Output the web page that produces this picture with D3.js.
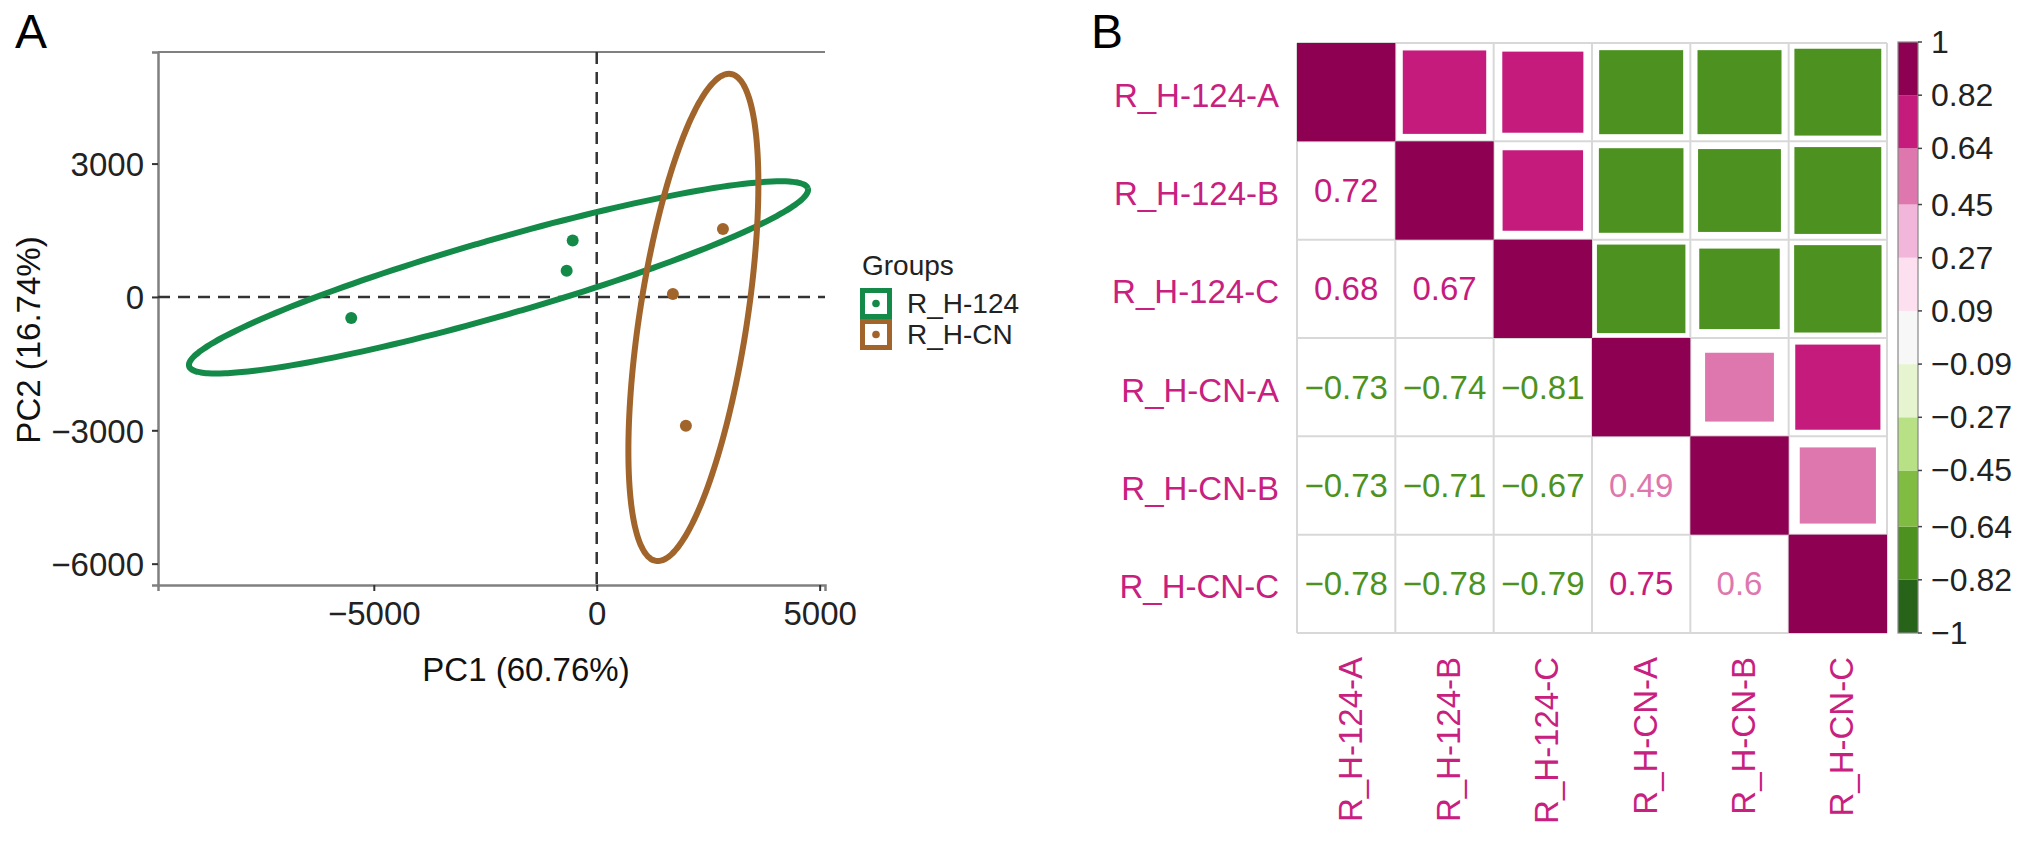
<!DOCTYPE html>
<html><head><meta charset="utf-8">
<script src="https://cdn.jsdelivr.net/npm/d3@7"></script>
<style>body{margin:0;background:#fff}text{font-family:"Liberation Sans",Arial,Helvetica,sans-serif}</style>
</head><body>
<svg id="c" width="2031" height="842"></svg>
<script>
// ---------- Panel A data ----------
const groups = ["R_H-124", "R_H-CN"];
const groupColors = ["#138a48", "#a1652b"];
const pc1_124 = [-5506, -674, -539];
const pc2_124 = [-475, 589, 1268];
const pc1_CN = [1708, 2000, 2831];
const pc2_CN = [68, -2898, 1530];
// ellipse: centre, conjugate semi-diameters (data units)
const ellipse124 = {cx: -2203, cy: 440, ux: 6943, uy: 1970, vx: 0, vy: 890};
const ellipseCN = {cx: 2168, cy: -461, ux: 798, uy: 5480, vx: 1220, vy: 0};
const xTicks = [-5000, 0, 5000];
const yTicks = [3000, 0, -3000, -6000];

// ---------- Panel B data ----------
const samples = ["R_H-124-A","R_H-124-B","R_H-124-C","R_H-CN-A","R_H-CN-B","R_H-CN-C"];
const lowerTri = [
  [],
  [0.72],
  [0.68, 0.67],
  [-0.73, -0.74, -0.81],
  [-0.73, -0.71, -0.67, 0.49],
  [-0.78, -0.78, -0.79, 0.75, 0.6]
];
const colorBreaks = [-1,-0.82,-0.64,-0.45,-0.27,-0.09,0.09,0.27,0.45,0.64,0.82,1];
const breakLabels = ["\u22121","\u22120.82","\u22120.64","\u22120.45","\u22120.27","\u22120.09","0.09","0.27","0.45","0.64","0.82","1"];
const binColors = ["#276419","#4d9221","#7fbc41","#b8e186","#e6f5d0","#f7f7f7","#fde0ef","#f1b6da","#de77ae","#c51b7d","#8e0152"];

const svg = d3.select("#c");
const fmt = d => (d < 0 ? "\u2212" : "") + Math.abs(d);

// ================= Panel A =================
const x = d3.scaleLinear().domain([-9840, 5120]).range([158, 825]);
const y = d3.scaleLinear().domain([-6480, 5510]).range([585, 52]);
const A = svg.append("g");
A.append("text").attr("x", 15).attr("y", 48).attr("font-size", 48).text("A");

const frameCol = "#808080";
A.append("line").attr("x1", 158).attr("x2", 825).attr("y1", 52).attr("y2", 52).attr("stroke", frameCol).attr("stroke-width", 2);

const xAxis = A.append("g").attr("transform", "translate(0,585)")
  .call(d3.axisBottom(x).tickValues(xTicks).tickSize(6).tickPadding(10).tickFormat(fmt));
const yAxis = A.append("g").attr("transform", "translate(158,0)")
  .call(d3.axisLeft(y).tickValues(yTicks).tickSize(6).tickPadding(8).tickFormat(fmt));
[xAxis, yAxis].forEach(g => {
  g.select(".domain").attr("stroke", frameCol).attr("stroke-width", 2.5);
  g.selectAll(".tick line").attr("stroke", "#333").attr("stroke-width", 2);
  g.selectAll(".tick text").attr("font-size", 33).attr("fill", "#222").attr("font-family", '"Liberation Sans",Arial,sans-serif');
});
yAxis.selectAll(".tick text").attr("dy", "0.36em");
xAxis.selectAll(".tick text").attr("dy", "0.72em");

A.append("text").attr("x", 526).attr("y", 681).attr("text-anchor", "middle").attr("font-size", 33).attr("fill", "#111").text("PC1 (60.76%)");
A.append("text").attr("transform", "translate(40,340) rotate(-90)").attr("text-anchor", "middle").attr("font-size", 33).attr("fill", "#111").text("PC2 (16.74%)");

A.append("line").attr("x1", x(0)).attr("x2", x(0)).attr("y1", 52).attr("y2", 585)
  .attr("stroke", "#333").attr("stroke-width", 2.5).attr("stroke-dasharray", "12,8");
A.append("line").attr("x1", 158).attr("x2", 825).attr("y1", y(0)).attr("y2", y(0))
  .attr("stroke", "#333").attr("stroke-width", 2.5).attr("stroke-dasharray", "12,8");

const angles = d3.range(0, 361, 2).map(a => a * Math.PI / 180);
const line = d3.line().x(d => x(d[0])).y(d => y(d[1])).curve(d3.curveCardinalClosed);
function ellipsePts(e) {
  return angles.slice(0, -1).map(t => [e.cx + e.ux * Math.cos(t) + e.vx * Math.sin(t), e.cy + e.uy * Math.cos(t) + e.vy * Math.sin(t)]);
}
[ellipse124, ellipseCN].forEach((e, i) => {
  A.append("path").attr("d", line(ellipsePts(e))).attr("fill", "none")
    .attr("stroke", groupColors[i]).attr("stroke-width", 6);
});
const pts = [pc1_124.map((v, i) => [v, pc2_124[i], 0]), pc1_CN.map((v, i) => [v, pc2_CN[i], 1])].flat();
A.selectAll("circle.pt").data(pts).join("circle").attr("class", "pt")
  .attr("cx", d => x(d[0])).attr("cy", d => y(d[1])).attr("r", 6)
  .attr("fill", d => groupColors[d[2]]);

const L = A.append("g");
L.append("text").attr("x", 862).attr("y", 275).attr("font-size", 28).attr("fill", "#222").text("Groups");
groups.forEach((g, i) => {
  const ky = 288 + i * 31;
  L.append("rect").attr("x", 862.5).attr("y", ky + 2.5).attr("width", 27).attr("height", 26)
    .attr("fill", "#fff").attr("stroke", groupColors[i]).attr("stroke-width", 5);
  L.append("circle").attr("cx", 876).attr("cy", ky + 15.5).attr("r", 3.8).attr("fill", groupColors[i]);
  L.append("text").attr("x", 907).attr("y", ky + 25).attr("font-size", 28).attr("fill", "#222").text(g);
});

// ================= Panel B =================
const B = svg.append("g");
B.append("text").attr("x", 1091).attr("y", 48).attr("font-size", 48).text("B");
const gx0 = 1297, gy0 = 43, gsize = 590;
const band = d3.scaleBand().domain(samples).range([0, gsize]);
const cell = band.bandwidth();
const color = d3.scaleThreshold().domain(colorBreaks.slice(1, -1)).range(binColors);
const side = d3.scaleSqrt().domain([0, 1]).range([0, cell]);
const corr = samples.map((r, i) => samples.map((c, j) => i === j ? 1 : (i > j ? lowerTri[i][j] : lowerTri[j][i])));
const cells = [];
samples.forEach((r, i) => samples.forEach((c, j) => cells.push({r, c, i, j, v: corr[i][j]})));
const M = B.append("g").attr("transform", `translate(${gx0},${gy0})`);
// grid first
const gridCol = "#d8d8d8";
d3.range(samples.length + 1).forEach(k => {
  const p = k * cell;
  M.append("line").attr("x1", p).attr("x2", p).attr("y1", 0).attr("y2", gsize).attr("stroke", gridCol).attr("stroke-width", 2);
  M.append("line").attr("y1", p).attr("y2", p).attr("x1", 0).attr("x2", gsize).attr("stroke", gridCol).attr("stroke-width", 2);
});
// diagonal + upper squares
M.selectAll("rect.sq").data(cells.filter(d => d.j >= d.i)).join("rect").attr("class", "sq")
  .attr("x", d => band(d.c) + (cell - side(Math.abs(d.v))) / 2)
  .attr("y", d => band(d.r) + (cell - side(Math.abs(d.v))) / 2)
  .attr("width", d => side(Math.abs(d.v))).attr("height", d => side(Math.abs(d.v)))
  .attr("fill", d => color(d.v));
// lower numbers
M.selectAll("text.num").data(cells.filter(d => d.j < d.i)).join("text").attr("class", "num")
  .attr("x", d => band(d.c) + cell / 2).attr("y", d => band(d.r) + cell / 2)
  .attr("text-anchor", "middle").attr("dominant-baseline", "central")
  .attr("font-size", 33).attr("fill", d => color(d.v)).text(d => fmt(d.v));
// labels
const labCol = "#c8207f";
M.selectAll("text.rl").data(samples).join("text").attr("class", "rl")
  .attr("x", -18).attr("y", d => band(d) + cell / 2 + 3)
  .attr("text-anchor", "end").attr("dominant-baseline", "central")
  .attr("font-size", 33).attr("fill", labCol).text(d => d);
M.selectAll("text.cl").data(samples).join("text").attr("class", "cl")
  .attr("transform", d => `translate(${band(d) + cell / 2 + 4},${gsize + 24}) rotate(-90)`)
  .attr("text-anchor", "end").attr("dominant-baseline", "central")
  .attr("font-size", 33).attr("fill", labCol).text(d => d);

// colour bar
const cbx = 1898, cbw = 20;
const cby = d3.scaleLinear().domain([-1, 1]).range([633, 42]);
const CB = B.append("g");
binColors.forEach((c, k) => {
  CB.append("rect").attr("x", cbx).attr("y", cby(colorBreaks[k + 1])).attr("width", cbw)
    .attr("height", cby(colorBreaks[k]) - cby(colorBreaks[k + 1])).attr("fill", c);
});
CB.append("rect").attr("x", cbx).attr("y", 42).attr("width", cbw).attr("height", 591)
  .attr("fill", "none").attr("stroke", "#888").attr("stroke-width", 1.2);
colorBreaks.forEach((b, k) => {
  const yy = cby(b);
  CB.append("line").attr("x1", cbx + cbw).attr("x2", cbx + cbw + 4).attr("y1", yy).attr("y2", yy).attr("stroke", "#444").attr("stroke-width", 1.5);
  CB.append("text").attr("x", 1931).attr("y", yy).attr("dominant-baseline", "central")
    .attr("font-size", 32).attr("fill", "#222").text(breakLabels[k]);
});
</script>
</body></html>
